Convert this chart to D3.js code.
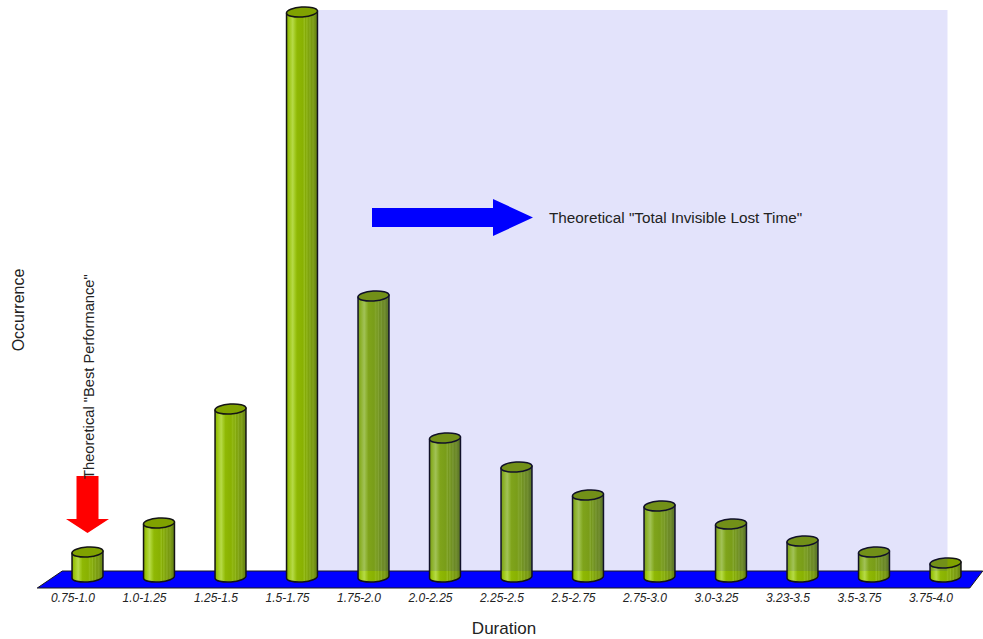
<!DOCTYPE html>
<html>
<head>
<meta charset="utf-8">
<script src="https://cdn.jsdelivr.net/npm/d3@7"></script>
<style>
  html, body { margin: 0; padding: 0; background: #ffffff; }
  svg { display: block; font-family: "Liberation Sans", Arial, sans-serif; }
</style>
</head>
<body>
<svg id="chart" width="983" height="639"></svg>
<script>
// Duration classes (x axis) and how often each occurred
const durations = ["0.75-1.0", "1.0-1.25", "1.25-1.5", "1.5-1.75", "1.75-2.0", "2.0-2.25",
  "2.25-2.5", "2.5-2.75", "2.75-3.0", "3.0-3.25", "3.23-3.5", "3.5-3.75", "3.75-4.0"];
const occurrences = [25, 54, 168, 565, 281, 139, 110, 82, 71, 53, 36, 25, 14];

const xTitle = "Duration";
const yTitle = "Occurrence";
const bestNote = "Theoretical \"Best Performance\"";
const lostNote = "Theoretical \"Total Invisible Lost Time\"";

const svg = d3.select("#chart");

// 3-D depth of the floor and radius of each cylinder
const depth = { dx: 25, dy: 17 };
const r = 15.5, ry = 5, tilt = -4 * Math.PI / 180;

const x = d3.scaleBand().domain(durations).range([37.25, 966.75]).padding(0);
const floorFront = 588, floorBack = floorFront - depth.dy;
const base = 577;
const y = d3.scaleLinear().domain([0, d3.max(occurrences)]).range([base, 12]);

const cx = d => x(d) + x.bandwidth() / 2 + 14.5;

// gradient with fine vertical streaks for the cylinder bodies
const defs = svg.append("defs");
const grad = defs.append("linearGradient").attr("id", "barGrad")
  .attr("x1", "0%").attr("x2", "100%").attr("y1", "0%").attr("y2", "0%");
[[0, "#86ae00"], [8, "#9cc612"], [20, "#b6da48"], [27, "#a2ca22"], [34, "#8fb804"],
 [52, "#89b102"], [58, "#96bc1c"], [61, "#84aa06"], [66, "#93b820"], [70, "#7ea20a"],
 [76, "#8aac22"], [80, "#78990e"], [86, "#82a21e"], [92, "#6f8e12"], [100, "#66841a"]]
  .forEach(([o, c]) => grad.append("stop").attr("offset", o + "%").attr("stop-color", c));

// floor
const x0 = x.range()[0], x1 = x.range()[1];
svg.append("path")
  .attr("d", `M${x0},${floorFront} L${x0 + depth.dx},${floorBack} L${x1 + 16},${floorBack} L${x1 + 3},${floorFront} Z`)
  .attr("fill", "#0000ff")
  .attr("stroke", "#1a1a1a").attr("stroke-width", 1);

// point on a tilted ellipse
function ep(cxv, cyv, t) {
  const px = r * Math.cos(t), py = ry * Math.sin(t);
  return [cxv + px * Math.cos(tilt) - py * Math.sin(tilt), cyv + px * Math.sin(tilt) + py * Math.cos(tilt)];
}
const deg = tilt * 180 / Math.PI;

const bars = svg.append("g").selectAll("g").data(durations.map((d, i) => ({ d, v: occurrences[i] })))
  .join("g");

bars.append("path")
  .attr("d", p => {
    const c = cx(p.d), top = y(p.v);
    const tl = ep(c, top, Math.PI), tr = ep(c, top, 0);
    const bl = ep(c, base, Math.PI), br = ep(c, base, 0);
    return `M${tl[0]},${tl[1]} L${bl[0]},${bl[1]} A${r},${ry} ${deg} 0 0 ${br[0]},${br[1]} L${tr[0]},${tr[1]} Z`;
  })
  .attr("fill", "url(#barGrad)")
  .attr("stroke", "#141414").attr("stroke-width", 1.5).attr("stroke-linejoin", "round");

bars.append("ellipse")
  .attr("cx", 0).attr("cy", 0).attr("rx", r).attr("ry", ry)
  .attr("transform", p => `translate(${cx(p.d)},${y(p.v)}) rotate(${deg})`)
  .attr("fill", "#80a200")
  .attr("stroke", "#141414").attr("stroke-width", 1.5);

// translucent band behind the "lost time" classes
const peak = durations[d3.maxIndex(occurrences)];
const last = durations[durations.length - 1];
const bandLeft = cx(peak) + r;
const bandRight = cx(last) + 2;
svg.append("rect")
  .attr("x", bandLeft).attr("y", y(d3.max(occurrences)) - 2)
  .attr("width", bandRight - bandLeft).attr("height", floorBack - (y(d3.max(occurrences)) - 2))
  .attr("fill", "rgb(0,0,220)").attr("fill-opacity", 0.11);

// category labels
svg.append("g").selectAll("text").data(durations).join("text")
  .attr("x", d => x(d) + x.bandwidth() / 2).attr("y", 602)
  .attr("text-anchor", "middle")
  .attr("font-size", 12).attr("font-style", "italic").attr("fill", "#222")
  .text(d => d);

// axis titles
svg.append("text").attr("x", 504).attr("y", 634).attr("text-anchor", "middle")
  .attr("font-size", 17).attr("fill", "#222").text(xTitle);
svg.append("text").attr("transform", "translate(24,310) rotate(-90)").attr("text-anchor", "middle")
  .attr("font-size", 16).attr("fill", "#222").text(yTitle);

// red arrow pointing at the best-performance class
const first = durations[0];
const ax = cx(first), tipY = y(occurrences[0]) - 19;
svg.append("path")
  .attr("d", `M${ax - 11},${tipY - 57} L${ax + 11},${tipY - 57} L${ax + 11},${tipY - 14} L${ax + 21.5},${tipY - 14} L${ax},${tipY} L${ax - 21.5},${tipY - 14} L${ax - 11},${tipY - 14} Z`)
  .attr("fill", "#ff0000");
svg.append("text")
  .attr("transform", `translate(${ax + 6},${tipY - 54}) rotate(-90)`)
  .attr("font-size", 14.7).attr("fill", "#222").text(bestNote);

// blue arrow toward the lost-time region
svg.append("path")
  .attr("d", "M372,208 L493,208 L493,199 L533,217.5 L493,236 L493,227 L372,227 Z")
  .attr("fill", "#0000ff");
svg.append("text").attr("x", 549).attr("y", 222.5)
  .attr("font-size", 15.3).attr("fill", "#222").text(lostNote);
</script>
</body>
</html>
